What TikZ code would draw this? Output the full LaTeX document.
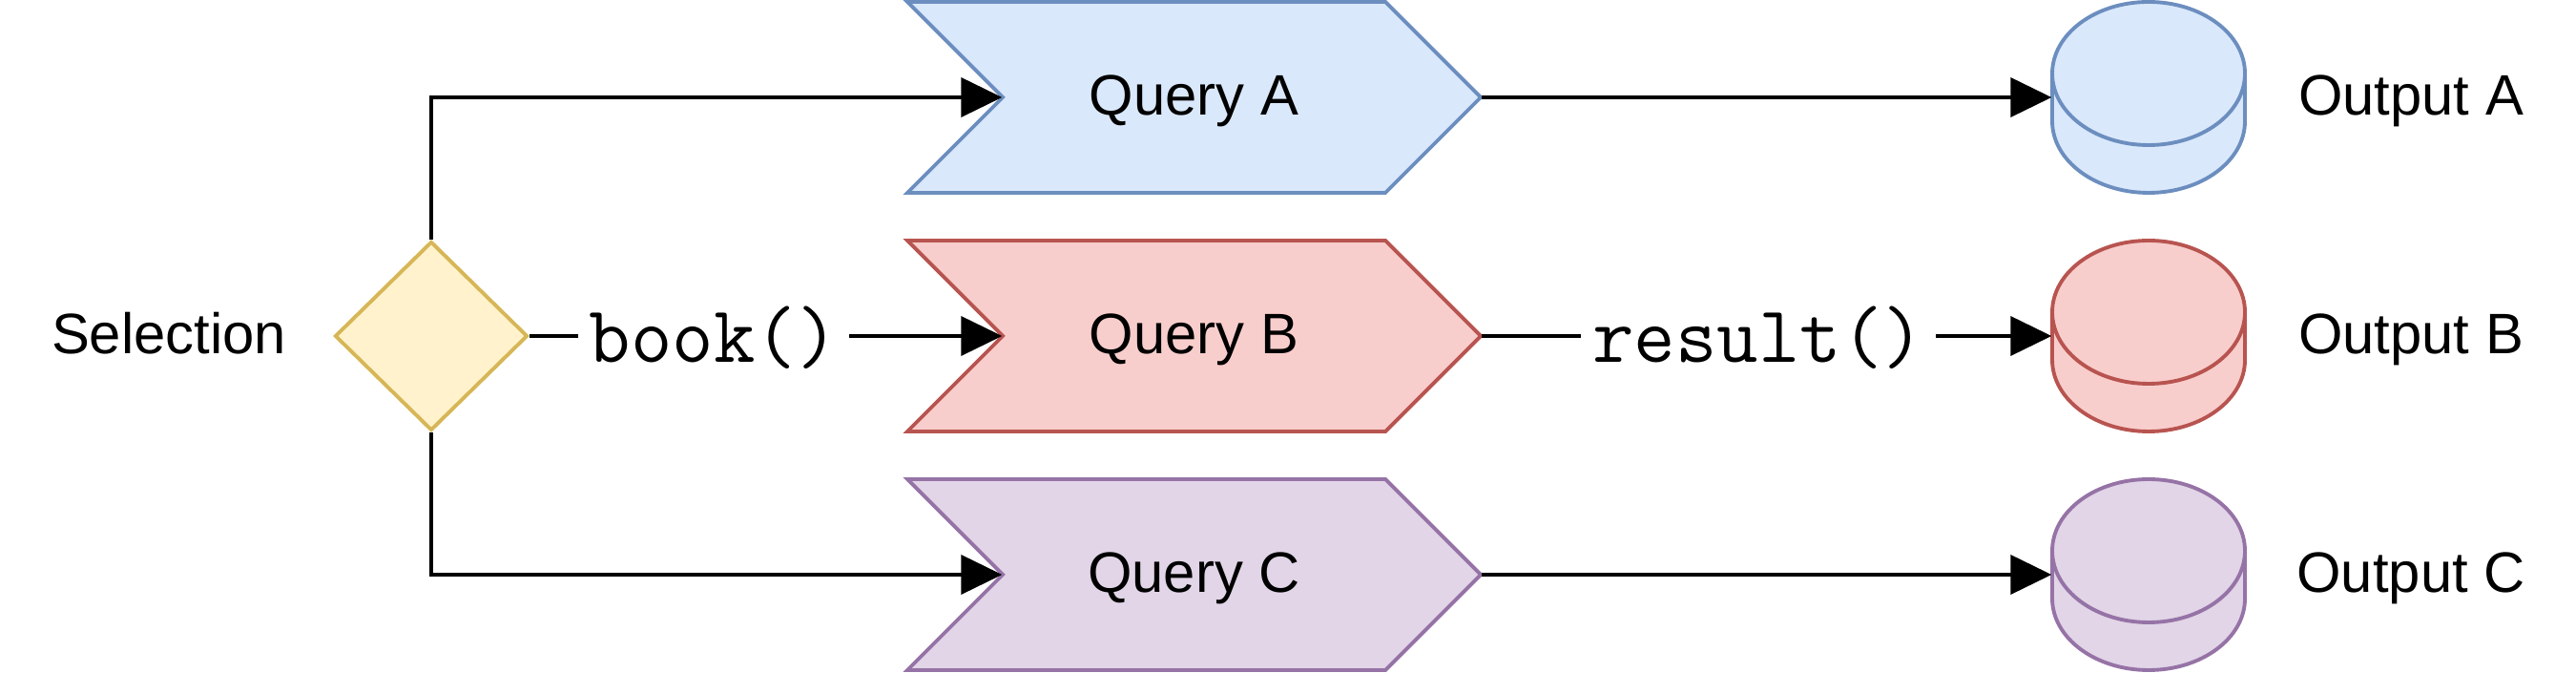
\documentclass[tikz,border=0pt]{standalone}
\usepackage{fontspec}
\setmainfont{Liberation Sans}
\usetikzlibrary{shapes.geometric,arrows.meta,calc}
\definecolor{blueF}{HTML}{DAE8FC}\definecolor{blueD}{HTML}{6C8EBF}
\definecolor{redF}{HTML}{F8CECC}\definecolor{redD}{HTML}{B85450}
\definecolor{purF}{HTML}{E1D5E7}\definecolor{purD}{HTML}{9673A6}
\definecolor{yelF}{HTML}{FFF2CC}\definecolor{yelD}{HTML}{D6B656}
\begin{document}
\begin{tikzpicture}[
  lbl/.style={font=\fontsize{17pt}{20pt}\selectfont, inner sep=0pt, text height=0.5cm, text depth=0.12cm},
  code/.style={font=\fontsize{24pt}{28pt}\selectfont\ttfamily, fill=white, inner xsep=0.12cm, inner ysep=0pt, text height=0.7cm, text depth=0.14cm},
  conn/.style={line width=1.1pt, -{Triangle[length=0.43cm,width=0.41cm]}},
  qbox/.style={lbl, minimum width=6.01cm, minimum height=2cm},
  cylbox/.style={minimum width=2.02cm, minimum height=2cm, inner sep=0pt},
  shapeline/.style={line width=1.1pt, line join=miter},
  dec/.style={diamond, aspect=1, minimum width=2.02cm, minimum height=1.98cm, inner sep=0pt, draw=yelD, fill=yelF, line width=1.1pt}
]
\useasboundingbox (0,0) rectangle (27,7.05);

% chevrons (queries)
\foreach \n/\y/\f/\d/\t in {qa/6.03/blueF/blueD/Query A, qb/3.53/redF/redD/Query B, qc/1.03/purF/purD/Query C} {
  \filldraw[shapeline, fill=\f, draw=\d] (9.51,\y+1) -- (14.52,\y+1) -- (15.52,\y) -- (14.52,\y-1) -- (9.51,\y-1) -- (10.51,\y) -- cycle;
  \node[qbox] (\n) at (12.515,\y) {\t};
}

% cylinders (outputs)
\foreach \n/\m/\y/\f/\d/\t in {oa/ta/6.03/blueF/blueD/Output A, ob/tb/3.53/redF/redD/Output B, oc/tc/1.03/purF/purD/Output C} {
  \filldraw[shapeline, fill=\f, draw=\d] (21.51,\y+0.25) -- (21.51,\y-0.25) arc[start angle=180, end angle=360, x radius=1.01, y radius=0.75] -- (23.53,\y+0.25) arc[start angle=0, end angle=180, x radius=1.01, y radius=0.75] -- cycle;
  \draw[shapeline, draw=\d] (21.51,\y+0.25) arc[start angle=180, end angle=360, x radius=1.01, y radius=0.75];
  \node[cylbox] (\n) at (22.52,\y) {};
  \node[lbl] (\m) at (25.27,\y) {\t};
}

% decision
\node[dec] (sel) at (4.52,3.53) {};
\node[lbl] (selT) at (1.77,3.53) {Selection};

% connectors
\draw[conn] (sel.north) |- ([xshift=1cm]qa.west);
\draw[conn] (sel.east) -- node[code, pos=0.39] (bookL) {book()} ([xshift=1cm]qb.west);
\draw[conn] (sel.south) |- ([xshift=1cm]qc.west);

\draw[conn] (qa.east) -- (oa.west);
\draw[conn] (qb.east) -- node[code, pos=0.486] (resL) {result()} (ob.west);
\draw[conn] (qc.east) -- (oc.west);
\end{tikzpicture}
\end{document}
